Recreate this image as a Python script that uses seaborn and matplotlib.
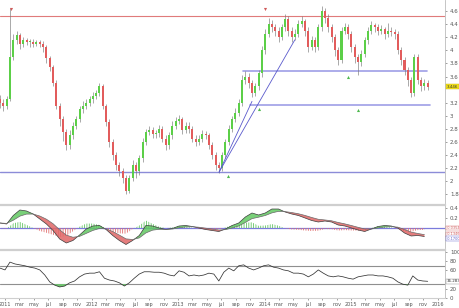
import numpy as np
import pandas as pd
import matplotlib
matplotlib.use("Agg")
import matplotlib.pyplot as plt
import matplotlib.dates as mdates
import matplotlib.transforms as mtrans
from matplotlib.ticker import FuncFormatter, FixedLocator
import seaborn as sns

sns.set_style("white")
plt.rcParams["font.family"] = ["DejaVu Sans"]
plt.rcParams["hatch.linewidth"] = 0.6

# ---------------- data ----------------
candle_start = "2010-12-10"          # biweekly candles
first_open = 3.25
closes = [3.20, 3.15, 3.25, 3.90, 4.15, 4.23, 4.10, 4.15, 4.12, 4.13,
          4.10, 4.12, 4.10, 4.05, 3.88, 3.75, 3.50, 3.15, 2.95, 2.75,
          2.55, 2.70, 2.85, 2.95, 3.10, 3.15, 3.20, 3.25, 3.30, 3.35,
          3.45, 3.15, 2.90, 2.60, 2.40, 2.25, 2.15, 2.05, 1.85, 2.05,
          2.25, 2.15, 2.35, 2.60, 2.75, 2.78, 2.72, 2.73, 2.80, 2.65,
          2.55, 2.70, 2.85, 2.92, 2.95, 2.78, 2.85, 2.80, 2.65, 2.60,
          2.65, 2.72, 2.70, 2.55, 2.40, 2.25, 2.20, 2.40, 2.60, 2.80,
          2.95, 3.05, 3.20, 3.55, 3.60, 3.50, 3.35, 3.45, 3.65, 4.00,
          4.25, 4.40, 4.35, 4.30, 4.20, 4.35, 4.48, 4.30, 4.20, 4.25,
          4.40, 4.45, 4.30, 4.05, 4.15, 4.05, 4.35, 4.60, 4.50, 4.35,
          4.20, 4.00, 3.85, 4.30, 4.35, 4.25, 4.05, 3.90, 3.82, 3.95,
          4.15, 4.30, 4.38, 4.35, 4.30, 4.32, 4.25, 4.30, 4.28, 4.25,
          4.00, 3.85, 3.70, 3.55, 3.35, 3.90, 3.55, 3.45, 3.50, 3.446]
highs = [3.32, 3.26, 3.30, 4.65, 4.25, 4.30, 4.27, 4.20, 4.19, 4.18,
         4.17, 4.16, 4.15, 4.14, 4.08, 3.92, 3.78, 3.55, 3.20, 3.00,
         2.80, 2.78, 2.90, 3.00, 3.15, 3.22, 3.26, 3.30, 3.36, 3.40,
         3.50, 3.48, 3.18, 2.95, 2.65, 2.45, 2.30, 2.20, 2.10, 2.10,
         2.32, 2.30, 2.40, 2.66, 2.80, 2.85, 2.83, 2.78, 2.86, 2.84,
         2.70, 2.75, 2.92, 2.98, 3.02, 2.98, 2.90, 2.90, 2.84, 2.70,
         2.70, 2.78, 2.77, 2.74, 2.60, 2.44, 2.30, 2.45, 2.65, 2.86,
         3.00, 3.12, 3.26, 3.62, 3.68, 3.65, 3.55, 3.50, 3.70, 4.06,
         4.32, 4.50, 4.46, 4.40, 4.35, 4.40, 4.55, 4.52, 4.35, 4.32,
         4.46, 4.52, 4.48, 4.35, 4.22, 4.20, 4.40, 4.68, 4.65, 4.55,
         4.40, 4.25, 4.05, 4.36, 4.42, 4.40, 4.30, 4.10, 3.95, 4.00,
         4.20, 4.36, 4.45, 4.42, 4.40, 4.38, 4.36, 4.42, 4.35, 4.33,
         4.30, 4.05, 3.90, 3.75, 3.60, 3.95, 3.95, 3.60, 3.56, 3.55]
lows = [3.12, 3.08, 3.10, 3.22, 3.85, 4.10, 4.02, 4.05, 4.08, 4.05,
        4.05, 4.06, 4.05, 3.98, 3.80, 3.68, 3.45, 3.10, 2.85, 2.62,
        2.48, 2.50, 2.65, 2.80, 2.90, 3.05, 3.10, 3.15, 3.20, 3.25,
        3.30, 3.10, 2.85, 2.52, 2.32, 2.18, 2.08, 1.98, 1.80, 1.82,
        2.00, 2.05, 2.10, 2.30, 2.55, 2.70, 2.66, 2.66, 2.68, 2.60,
        2.48, 2.50, 2.65, 2.80, 2.88, 2.72, 2.74, 2.74, 2.60, 2.54,
        2.55, 2.60, 2.64, 2.50, 2.34, 2.18, 2.13, 2.16, 2.36, 2.55,
        2.75, 2.90, 3.00, 3.15, 3.48, 3.42, 3.28, 3.30, 3.40, 3.60,
        3.95, 4.20, 4.28, 4.22, 4.12, 4.15, 4.30, 4.22, 4.12, 4.15,
        4.20, 4.35, 4.22, 3.98, 4.00, 3.98, 4.00, 4.30, 4.42, 4.28,
        4.12, 3.92, 3.78, 3.80, 4.25, 4.18, 3.98, 3.80, 3.62, 3.76,
        3.90, 4.10, 4.25, 4.28, 4.24, 4.25, 4.18, 4.20, 4.22, 4.18,
        3.95, 3.78, 3.62, 3.45, 3.28, 3.30, 3.48, 3.38, 3.40, 3.40]

macd_start = "2010-12-10"            # every 28 days
macd_vals = [0.10, 0.08, 0.25, 0.36, 0.34, 0.28, 0.18, 0.08, -0.05, -0.22,
             -0.30, -0.25, -0.14, -0.02, 0.04, 0.05, -0.03, -0.15, -0.25, -0.33,
             -0.25, -0.15, 0.05, 0.04, 0.00, -0.03, -0.01, 0.04, 0.05, 0.03,
             0.00, -0.03, -0.05, -0.07, -0.02, 0.05, 0.10, 0.22, 0.30, 0.26,
             0.30, 0.38, 0.38, 0.32, 0.28, 0.25, 0.20, 0.15, 0.12, 0.14,
             0.12, 0.06, 0.04, 0.00, -0.04, -0.07, -0.02, 0.03, 0.05, 0.04,
             0.00, -0.10, -0.16, -0.15, -0.17]
signal_span = 4

rsi_start = "2010-12-10"             # every 21 days
rsi_vals = [65, 61, 78, 74, 72, 70, 67, 65, 61, 50,
            35, 28, 24, 26, 33, 37, 46, 52, 54, 54,
            57, 43, 39, 37, 33, 26, 33, 43, 52, 57,
            57, 56, 56, 54, 50, 48, 59, 56, 48, 50,
            48, 50, 54, 52, 37, 56, 65, 59, 70, 72,
            65, 61, 65, 70, 72, 67, 65, 61, 59, 54,
            54, 52, 46, 52, 61, 54, 48, 46, 48, 46,
            43, 41, 46, 48, 50, 50, 48, 48, 46, 43,
            35, 30, 28, 48, 39, 37, 36.283]

resistance_level = 4.52
support_level = 2.14
box_upper = (["2013-10-02", "2015-11-17"], 3.68)
box_lower = (["2013-10-31", "2015-11-30"], 3.17)
trend_a = (["2013-06-22", "2014-05-08"], [2.14, 4.16])
trend_b = (["2013-06-22", "2013-11-08"], [2.14, 3.22])
down_arrows = (["2011-01-25", "2014-01-03"], [4.63, 4.63])
up_arrows = (["2013-07-30", "2013-12-07", "2014-12-20", "2015-01-30"],
             [2.08, 3.10, 3.59, 3.09])

price_ticks = [1.8, 2, 2.2, 2.4, 2.6, 2.8, 3, 3.2, 3.6, 3.8, 4, 4.2, 4.4, 4.6]
last_price_label = "3.446"
macd_labels = ["-0.0354", "-0.1346", "-0.1700"]
macd_label_vals = [0.0, -0.125, -0.21]
rsi_ticks = [0, 20, 60, 80, 100]
rsi_label = "36.283"
x_range = ["2010-12-10", "2016-02-01"]

# ---------------- figure ----------------
W, H = 460, 308
fig = plt.figure(figsize=(W / 100, H / 100), dpi=100)
fig.patch.set_facecolor("white")


def add_panel(y0, y1):
    return fig.add_axes([0, (H - y1) / H, 445 / W, (y1 - y0) / H])


axp = add_panel(0, 203)
axm = add_panel(205, 248)
axr = add_panel(250, 298)

xmin, xmax = mdates.date2num(pd.to_datetime(x_range))
GRAY = "#555555"
for ax in (axp, axm, axr):
    ax.set_xlim(xmin, xmax)
    ax.set_facecolor("white")
    for s in ("left", "top", "bottom"):
        ax.spines[s].set_visible(False)
    ax.spines["right"].set_color("#bbbbbb")
    ax.spines["right"].set_linewidth(0.6)
    ax.yaxis.tick_right()
    ax.tick_params(axis="y", labelsize=4, colors=GRAY, length=1.5, width=0.4, pad=2)
    ax.tick_params(axis="x", bottom=False, labelbottom=False)
    ax.grid(False)
for ax in (axm, axr):
    ax.spines["top"].set_visible(True)
    ax.spines["top"].set_color("#cfcfcf")
    ax.spines["top"].set_linewidth(1.6)
axr.spines["bottom"].set_visible(True)
axr.spines["bottom"].set_color("#cfcfcf")
axr.spines["bottom"].set_linewidth(0.8)

# ---------------- price panel ----------------
c = np.array(closes)
o = np.array([first_open] + closes[:-1])
hi = np.array(highs)
lo = np.array(lows)
cd = mdates.date2num(pd.date_range(candle_start, periods=len(c), freq="14D"))
up = c >= o
colors = np.where(up, "#5ccf48", "#e25c5c")
axp.vlines(cd, lo, hi, color="#7a7a7a", lw=0.45, zorder=2)
body = np.maximum(np.abs(c - o), 0.015)
axp.bar(cd, body, bottom=np.minimum(o, c), width=8.5, color=colors, lw=0, zorder=3)

axp.axhline(resistance_level, color="#e07b7b", lw=0.8, zorder=1)
axp.axhline(support_level, color="#8c8cd8", lw=1.0, zorder=1)
for seg in (box_upper, box_lower):
    xs = mdates.date2num(pd.to_datetime(seg[0]))
    axp.plot(xs, [seg[1], seg[1]], color="#9e9ee6", lw=1.2, zorder=1)
for tl in (trend_a, trend_b):
    xs = mdates.date2num(pd.to_datetime(tl[0]))
    axp.plot(xs, tl[1], color="#5a5acc", lw=0.6, zorder=4)
axp.scatter(mdates.date2num(pd.to_datetime(down_arrows[0])), down_arrows[1],
            marker="v", s=5, color="#d05a5a", zorder=5, lw=0)
axp.scatter(mdates.date2num(pd.to_datetime(up_arrows[0])), up_arrows[1],
            marker="^", s=5, color="#4fb84f", zorder=5, lw=0)

axp.set_ylim(1.669, 4.768)
axp.yaxis.set_major_locator(FixedLocator(price_ticks))
axp.yaxis.set_major_formatter(FuncFormatter(lambda v, p: f"{v:g}"))
trp = mtrans.blended_transform_factory(axp.transAxes, axp.transData)
axp.text(1.004, c[-1], last_price_label, transform=trp, fontsize=3.0, va="center",
         ha="left", color="#333333",
         bbox=dict(boxstyle="square,pad=0.15", fc="#f3e21c", ec="#c9b600", lw=0.3),
         zorder=10, clip_on=False)

# ---------------- MACD panel ----------------
md = pd.date_range(macd_start, periods=len(macd_vals), freq="28D")
macd = pd.Series(macd_vals, index=md)
signal = macd.ewm(span=signal_span, adjust=False).mean()
hist = macd - signal
mx = mdates.date2num(md)
axm.axhline(0, color="#7b7bdc", lw=0.9, zorder=1)
axm.fill_between(mx, 0, hist.values, where=hist.values >= 0, interpolate=True,
                 facecolor="none", edgecolor="#62c462", hatch="|||||||", lw=0, zorder=2)
axm.fill_between(mx, 0, hist.values, where=hist.values < 0, interpolate=True,
                 facecolor="none", edgecolor="#e27070", hatch="|||||||", lw=0, zorder=2)
axm.fill_between(mx, macd.values, signal.values, where=macd.values >= signal.values,
                 interpolate=True, color="#62c862", alpha=0.85, lw=0, zorder=3)
axm.fill_between(mx, macd.values, signal.values, where=macd.values < signal.values,
                 interpolate=True, color="#e06666", alpha=0.85, lw=0, zorder=3)
sns.lineplot(x=mx, y=macd.values, ax=axm, color="#3d3d3d", lw=0.5, zorder=4)
sns.lineplot(x=mx, y=signal.values, ax=axm, color="#6a6a6a", lw=0.5, zorder=4)
axm.set_ylim(-0.40, 0.46)
axm.yaxis.set_major_locator(FixedLocator([0.2, 0.4]))
axm.yaxis.set_major_formatter(FuncFormatter(lambda v, p: f"{v:g}"))
axm.set_xlabel("")
axm.set_ylabel("")
trm = mtrans.blended_transform_factory(axm.transAxes, axm.transData)
for lab, yv, col in zip(macd_labels, macd_label_vals, ["#d06060", "#d06060", "#6060cc"]):
    axm.text(1.003, yv, lab, transform=trm, fontsize=2.5, va="center", ha="left",
             color=col, bbox=dict(boxstyle="square,pad=0.1", fc="white", ec=col, lw=0.3),
             zorder=10, clip_on=False)

# ---------------- RSI panel ----------------
rd = pd.date_range(rsi_start, periods=len(rsi_vals), freq="21D")
rx = mdates.date2num(rd)
rv = np.array(rsi_vals, dtype=float)
axr.axhline(70, color="#8f8f8f", lw=0.8, zorder=1)
axr.axhline(30, color="#8f8f8f", lw=0.8, zorder=1)
axr.fill_between(rx, rv, 30, where=rv < 30, interpolate=True, color="#6cc86c", lw=0, zorder=2)
sns.lineplot(x=rx, y=rv, ax=axr, color="#333333", lw=0.55, zorder=3)
axr.set_ylim(0, 104.3)
axr.yaxis.set_major_locator(FixedLocator(rsi_ticks))
axr.set_xlabel("")
axr.set_ylabel("")
trr = mtrans.blended_transform_factory(axr.transAxes, axr.transData)
axr.text(1.004, rv[-1], rsi_label, transform=trr, fontsize=2.9, va="center", ha="left",
         color="#333333", bbox=dict(boxstyle="square,pad=0.12", fc="white", ec="#888888", lw=0.3),
         zorder=10, clip_on=False)

# x axis (dates) on the bottom panel
axr.xaxis.set_major_locator(mdates.MonthLocator(bymonth=[1, 3, 5, 7, 9, 11]))
axr.xaxis.set_major_formatter(FuncFormatter(
    lambda v, p: (str(mdates.num2date(v).year) if mdates.num2date(v).month == 1
                  else mdates.num2date(v).strftime("%b").lower())))
axr.tick_params(axis="x", bottom=True, labelbottom=True, labelsize=3.5, colors=GRAY,
                length=1.2, width=0.4, pad=1.5)
for ax in (axp, axm):
    ax.set_xticks([])

fig.savefig("out.png", dpi=100, facecolor="white")
